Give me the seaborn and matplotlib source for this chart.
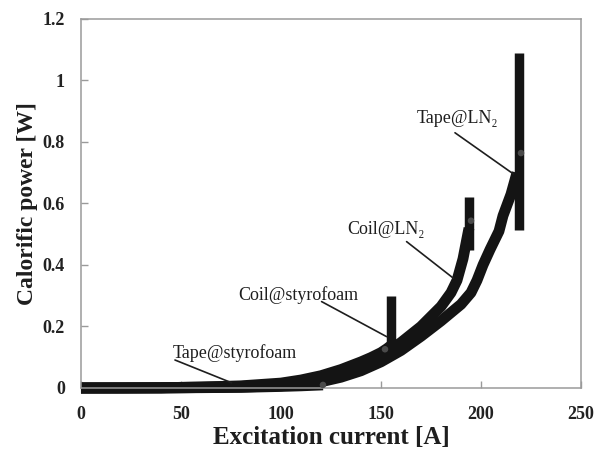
import matplotlib
matplotlib.use("Agg")
import matplotlib.pyplot as plt
import seaborn as sns
import pandas as pd

# Measured calorific power [W] against excitation current [A]
tape_styro_i = [0, 20, 40, 60, 80, 100, 110, 121]
tape_styro_p = [0.0, 0.0, 0.0, 0.001, 0.002, 0.005, 0.007, 0.010]

coil_styro_i = [0, 20, 40, 60, 80, 100, 110, 120, 130, 140, 145, 150, 153, 155]
coil_styro_p = [0.0, 0.0, 0.001, 0.003, 0.007, 0.016, 0.026, 0.040, 0.060, 0.085, 0.099, 0.115, 0.128, 0.138]

coil_ln2_i = [0, 40, 80, 100, 120, 130, 140, 150, 160, 170, 180, 185, 188, 191, 194]
coil_ln2_p = [0.0, 0.001, 0.005, 0.012, 0.030, 0.048, 0.072, 0.105, 0.148, 0.200, 0.265, 0.310, 0.350, 0.420, 0.520]

tape_ln2_i = [0, 40, 80, 100, 120, 130, 140, 150, 160, 170, 180, 185, 190, 195, 198, 201, 204.5, 209, 211, 215, 218]
tape_ln2_p = [0.0, 0.0, 0.003, 0.007, 0.020, 0.035, 0.056, 0.085, 0.122, 0.168, 0.218, 0.245, 0.272, 0.310, 0.350, 0.400, 0.450, 0.510, 0.560, 0.630, 0.700]

# Quench spikes at the final current of each run
spike_i = [155, 194, 219]
spike_lo = [0.12, 0.45, 0.515]
spike_hi = [0.30, 0.62, 1.09]

# Reference points marked on the curves
dot_i = [121, 152, 195, 220]
dot_p = [0.010, 0.126, 0.544, 0.764]

labels = ["Tape@styrofoam", "Coil@styrofoam", "Coil@LN\u2082", "Tape@LN\u2082"]
label_xy = [(77, 0.112), (108.5, 0.302), (152.5, 0.514), (188, 0.877)]
arrow_xy = [(75.3, 0.017), (152.8, 0.167), (186.2, 0.357), (216.2, 0.696)]
arrow_from = [(47, 0.091), (120.3, 0.281), (162.8, 0.476), (187, 0.83)]

sns.set_theme(style="white")
plt.rcParams["font.family"] = ["Liberation Serif", "DejaVu Serif"]

series = [
    (tape_styro_i, tape_styro_p),
    (coil_styro_i, coil_styro_p),
    (coil_ln2_i, coil_ln2_p),
    (tape_ln2_i, tape_ln2_p),
]
frames = []
for name, (xi, yp) in zip(labels, series):
    frames.append(pd.DataFrame({"current": xi, "power": yp, "run": name}))
df = pd.concat(frames, ignore_index=True)

fig = plt.figure(figsize=(6.03, 4.5), dpi=100)
ax = fig.add_axes([0.1343, 0.1378, 0.8292, 0.82])

ink = "#141414"
sns.lineplot(data=df, x="current", y="power", units="run", estimator=None,
             sort=False, color=ink, linewidth=7.8, ax=ax, legend=False)
for ln in ax.get_lines():
    ln.set_clip_on(False)
    ln.set_solid_capstyle("butt")
    ln.set_solid_joinstyle("round")

ax.vlines(spike_i, spike_lo, spike_hi, colors=ink, linewidth=6.8,
          capstyle="butt", zorder=3)

sns.scatterplot(x=dot_i, y=dot_p, color="#4a4a4a", s=22, edgecolor="none",
                ax=ax, zorder=4, clip_on=False)

for txt, (tx, ty), (ax0, ay0), (ax1, ay1) in zip(labels, label_xy, arrow_from, arrow_xy):
    ax.text(tx, ty, txt, ha="center", va="center", fontsize=13, color="#1e1e1e")
    ax.annotate("", xy=(ax1, ay1), xytext=(ax0, ay0),
                arrowprops=dict(arrowstyle="-", color="#1e1e1e", lw=1.2,
                                shrinkA=0, shrinkB=0))

ax.set_xlim(0, 250)
ax.set_ylim(0, 1.2)
ax.set_xticks([0, 50, 100, 150, 200, 250])
ax.set_yticks([0, 0.2, 0.4, 0.6, 0.8, 1.0, 1.2])
ax.set_yticklabels(["0", "0.2", "0.4", "0.6", "0.8", "1", "1.2"])
ax.tick_params(direction="in", length=5, width=1, color="#9a9a9a",
               labelsize=13, labelcolor="#222222", bottom=True, left=True)
ax.tick_params(axis="x", pad=13)
ax.tick_params(axis="y", pad=11.5)
for lbl in ax.get_xticklabels() + ax.get_yticklabels():
    lbl.set_fontweight("bold")
for sp in ax.spines.values():
    sp.set_color("#9a9a9a")
    sp.set_linewidth(1.1)

ax.set_xlabel("Excitation current [A]", fontsize=18, fontweight="bold",
              color="#1e1e1e", labelpad=2)
ax.set_ylabel("Calorific power [W]", fontsize=17, fontweight="bold",
              color="#1e1e1e", labelpad=3)

fig.savefig("out.png", dpi=100)
